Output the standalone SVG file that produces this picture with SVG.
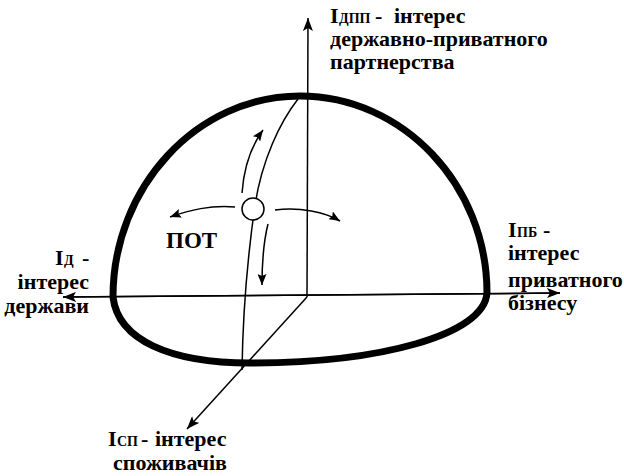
<svg xmlns="http://www.w3.org/2000/svg" width="624" height="476" viewBox="0 0 624 476">
<defs>
<marker id="ah" markerUnits="userSpaceOnUse" markerWidth="14" markerHeight="10" refX="13" refY="5" orient="auto">
<path d="M0,0 L13,5 L0,10 L3,5 z" fill="#000"/>
</marker>
<marker id="ahs" markerUnits="userSpaceOnUse" markerWidth="12" markerHeight="9" refX="11" refY="4.5" orient="auto">
<path d="M0,0 L11,4.5 L0,9 L2,4.5 z" fill="#000"/>
</marker>
<style>
.t{font-family:"Liberation Serif","Times New Roman",serif;font-weight:bold;font-size:22px;fill:#000}
.s{font-family:"Liberation Serif","Times New Roman",serif;font-weight:bold;font-size:14px;fill:#000}
.thin{fill:none;stroke:#000;stroke-width:1.5}
</style>
</defs>
<rect width="624" height="476" fill="#fff"/>
<g id="dome">
<path d="M113,297 C113,187 197,96 300,96 C403,96 487,185 487,293 C484,335 380,363 250,363 C170,363 118,340 113,297 Z" fill="none" stroke="#000" stroke-width="7"/>
</g>
<g id="connectors">
<line class="thin" x1="307" y1="297" x2="308" y2="18" marker-end="url(#ah)"/>
<line class="thin" x1="560" y1="293" x2="63" y2="297" marker-end="url(#ah)"/>
<line class="thin" x1="63" y1="297" x2="560" y2="293" marker-end="url(#ah)"/>
<line class="thin" x1="307" y1="297" x2="187" y2="429" marker-end="url(#ah)"/>
<path class="thin" d="M298,99 C280,122 262,160 255,205 C250,240 243,300 242,370"/>
<path class="thin" d="M242,193 C244,165 252,145 263,130" marker-end="url(#ahs)"/>
<path class="thin" d="M235,207 C210,205 190,210 170,217" marker-end="url(#ahs)"/>
<path class="thin" d="M275,210 C300,207 325,212 340,221" marker-end="url(#ahs)"/>
<path class="thin" d="M268,224 C264,240 262,260 262,285" marker-end="url(#ahs)"/>
</g>
<g id="point">
<circle cx="253" cy="209" r="11" fill="#fff" stroke="#000" stroke-width="1.5"/>
</g>
<g id="label-pot">
<text class="t" x="166" y="248" style="font-size:23px">ПОТ</text>
</g>
<g id="label-top">
<text class="t" x="330" y="23">I</text>
<text class="s" x="339" y="23">ДПП</text>
<text class="t" x="375" y="23">-</text>
<text class="t" x="394" y="23">інтерес</text>
<text class="t" x="330" y="46">державно-приватного</text>
<text class="t" x="330" y="69">партнерства</text>
</g>
<g id="label-left">
<text class="t" x="55" y="265">I</text>
<text class="s" x="64" y="265">Д</text>
<text class="t" x="82" y="265">-</text>
<text class="t" x="89" y="289" text-anchor="end">інтерес</text>
<text class="t" x="89" y="313" text-anchor="end">держави</text>
</g>
<g id="label-right">
<text class="t" x="508" y="237">I</text>
<text class="s" x="517" y="237">ПБ</text>
<text class="t" x="543" y="237">-</text>
<text class="t" x="508" y="260">інтерес</text>
<text class="t" x="508" y="287">приватного</text>
<text class="t" x="508" y="310">бізнесу</text>
</g>
<g id="label-bottom">
<text class="t" x="108" y="446">I</text>
<text class="s" x="117" y="446">СП</text>
<text class="t" x="141" y="446">-</text>
<text class="t" x="155" y="446">інтерес</text>
<text class="t" x="113" y="470">споживачів</text>
</g>
</svg>
